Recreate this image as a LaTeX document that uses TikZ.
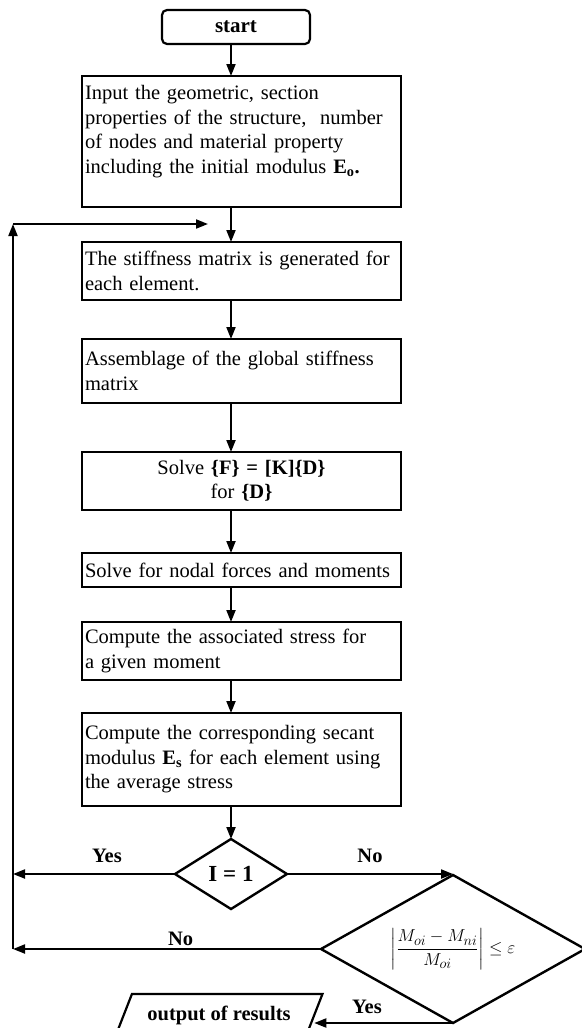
\documentclass[tikz,border=0pt]{standalone}
\usepackage{amsmath}
\usepackage{fontspec}
\setmainfont{Liberation Serif}
\usetikzlibrary{arrows.meta, positioning, shapes.geometric}

\begin{document}
\begin{tikzpicture}[
        x=1pt, y=1pt,
        >={Triangle[length=12pt, width=9pt]},
        every node/.style={font=\fontsize{20.5}{24.5}\selectfont, outer sep=0pt},
        box/.style={draw, line width=2.4pt, align=left, text width=313pt, inner xsep=3pt, inner ysep=3pt},
        startbox/.style={draw, line width=2.2pt, rounded corners=5pt, minimum width=148pt, minimum height=34pt, font=\fontsize{21}{24.5}\selectfont\bfseries},
        decision/.style={draw, diamond, line width=2.4pt, inner sep=0pt},
        outbox/.style={draw, trapezium, trapezium left angle=61, trapezium right angle=119, trapezium stretches=true, line width=2.2pt, minimum width=207pt, minimum height=42pt, font=\fontsize{20.5}{24.5}\selectfont\bfseries},
        lbl/.style={inner sep=0pt, font=\fontsize{20.5}{24.5}\selectfont\bfseries},
        flow/.style={->, line width=2pt}
    ]
        \useasboundingbox (0,0) rectangle (581,-1028);
        \coordinate (axis) at (231,0);

        \node[startbox] (start) at (236,-27) {start};
        \node[box, below=32pt of start, xshift=5.5pt, minimum height=131pt] (input) {Input the geometric, section\\properties of the structure,~ number\\of nodes and material property\\including the initial modulus \textbf{E\textsubscript{o}.}\\\mbox{}};
        \node[box, below=35pt of input, minimum height=58pt] (stiff) {The stiffness matrix is generated for\\each element.};
        \node[box, below=39pt of stiff, minimum height=64pt] (assem) {Assemblage of the global stiffness\\matrix};
        \node[box, below=49pt of assem, minimum height=58pt, align=center] (solve) {Solve \textbf{\{F\} = [K]\{D\}}\\for \textbf{\{D\}}};
        \node[box, below=43pt of solve, minimum height=34pt] (nodal) {Solve for nodal forces and moments};
        \node[box, below=35pt of nodal, minimum height=58pt] (stress) {Compute the associated stress for\\a given moment};
        \node[box, below=33pt of stress, minimum height=93pt] (secant) {Compute the corresponding secant\\modulus \textbf{E\textsubscript{s}} for each element using\\the average stress};
        \node[decision, below=33pt of secant, xshift=-10.5pt, minimum width=112pt, minimum height=70pt, aspect=1.6, font=\fontsize{23}{27}\selectfont\bfseries] (dec1) {I = 1};
        \node[decision, minimum width=264pt, minimum height=148pt, aspect=1.78, font=\fontsize{19}{23}\selectfont] (dec2) at (453,-949) {$\left|\dfrac{M_{oi}-M_{ni}}{M_{oi}}\right|\leq\varepsilon$};
        \node[outbox] (out) at (219,-1015) {output of results};

        \coordinate (loopbot) at (13,-949);
        \coordinate (looptop) at (13,-224);
        \coordinate (loopend) at (208,-224);

        \draw[flow] (start.south -| axis) -- (input.north -| axis);
        \draw[flow] (input.south -| axis) -- (stiff.north -| axis);
        \draw[flow] (stiff.south -| axis) -- (assem.north -| axis);
        \draw[flow] (assem.south -| axis) -- (solve.north -| axis);
        \draw[flow] (solve.south -| axis) -- (nodal.north -| axis);
        \draw[flow] (nodal.south -| axis) -- (stress.north -| axis);
        \draw[flow] (stress.south -| axis) -- (secant.north -| axis);
        \draw[flow] (secant.south -| axis) -- (dec1.north);

        \draw[flow] (dec1.west) -- (dec1.west -| loopbot) node[lbl, pos=0.42, above=11pt] {Yes};
        \draw[flow] (dec1.east) -- (dec1.east -| dec2.north) node[lbl, midway, above=11pt] {No};
        \draw[flow] (dec2.west) -- (loopbot) node[lbl, pos=0.456, above=3pt] {No};
        \draw[flow] (loopbot) -- (looptop);
        \draw[flow] (looptop) -- (loopend);
        \draw[flow] (dec2.south) -- (dec2.south -| out.east) node[lbl, pos=0.62, above=9pt] {Yes};
    \end{tikzpicture}
\end{document}
